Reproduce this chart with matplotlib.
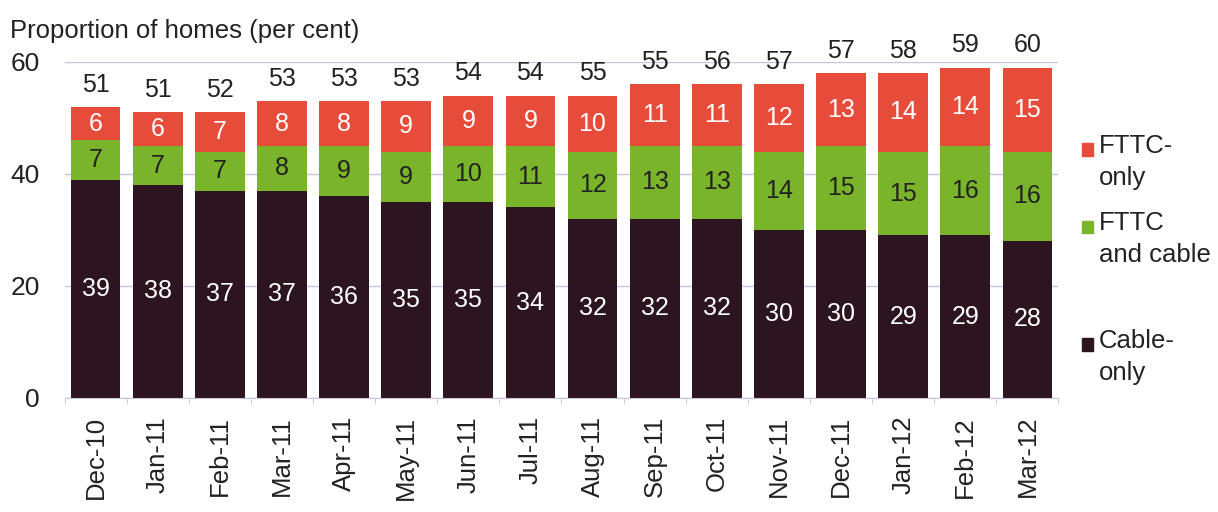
import matplotlib
matplotlib.use("Agg")
import matplotlib.pyplot as plt
import numpy as np

plt.rcParams['font.family'] = ['Liberation Sans', 'DejaVu Sans']

months = ["Dec-10", "Jan-11", "Feb-11", "Mar-11", "Apr-11", "May-11", "Jun-11", "Jul-11",
          "Aug-11", "Sep-11", "Oct-11", "Nov-11", "Dec-11", "Jan-12", "Feb-12", "Mar-12"]
cable_only = [39, 38, 37, 37, 36, 35, 35, 34, 32, 32, 32, 30, 30, 29, 29, 28]
fttc_and_cable = [7, 7, 7, 8, 9, 9, 10, 11, 12, 13, 13, 14, 15, 15, 16, 16]
fttc_only = [6, 6, 7, 8, 8, 9, 9, 9, 10, 11, 11, 12, 13, 14, 14, 15]
totals = [51, 51, 52, 53, 53, 53, 54, 54, 55, 55, 56, 57, 57, 58, 59, 60]

c_dark = "#2c1520"
c_green = "#79b42a"
c_red = "#e74c3a"
txt = "#222222"

fig = plt.figure(figsize=(12.18, 5.12), dpi=100)
ax = fig.add_axes([0.053, 0.223, 0.816, 0.656])

x = np.arange(len(months))
w = 0.8
ax.bar(x, cable_only, w, color=c_dark, zorder=2)
ax.bar(x, fttc_and_cable, w, bottom=cable_only, color=c_green, zorder=2)
base3 = np.array(cable_only) + np.array(fttc_and_cable)
ax.bar(x, fttc_only, w, bottom=base3, color=c_red, zorder=2)

fs = 18
for i in range(len(months)):
    ax.text(x[i], cable_only[i] / 2, str(cable_only[i]), ha="center", va="center",
            color="white", fontsize=fs, zorder=3)
    ax.text(x[i], cable_only[i] + fttc_and_cable[i] / 2, str(fttc_and_cable[i]),
            ha="center", va="center", color=txt, fontsize=fs, zorder=3)
    ax.text(x[i], base3[i] + fttc_only[i] / 2, str(fttc_only[i]),
            ha="center", va="center", color="white", fontsize=fs, zorder=3)
    top = base3[i] + fttc_only[i]
    ax.text(x[i], top + 1.8, str(totals[i]), ha="center", va="bottom",
            color=txt, fontsize=fs)

ax.set_xlim(-0.48, len(months) - 0.52)
ax.set_ylim(0, 60)
ax.set_yticks([0, 20, 40, 60])
ax.tick_params(axis="y", length=0, labelsize=19, pad=18, colors=txt)
ax.yaxis.grid(True, color="#c9c4dc", linewidth=1, zorder=0)
ax.set_axisbelow(True)

ax.set_xticks(x)
ax.set_xticklabels(months, rotation=90, fontsize=18.5, color=txt)
ax.tick_params(axis="x", length=0, pad=13)
ax.set_xticks(np.arange(-0.5, len(months), 1), minor=True)
ax.tick_params(axis="x", which="minor", length=4, color="#c9c4dc")

for s in ["top", "right", "left"]:
    ax.spines[s].set_visible(False)
ax.spines["bottom"].set_color("#c9c4dc")

fig.text(0.008, 0.94, "Proportion of homes (per cent)", fontsize=18.5, color=txt,
         ha="left", va="center")

# legend entries on the right
legend_items = [("FTTC-\nonly", c_red, 0.262), ("FTTC\nand cable", c_green, 0.413),
                ("Cable-\nonly", c_dark, 0.643)]
for label, col, ytop in legend_items:
    yf = 1 - ytop
    fig.patches.append(plt.Rectangle((0.888, yf - 0.042), 0.0095, 0.024, color=col,
                                     transform=fig.transFigure, figure=fig))
    fig.text(0.902, yf, label, fontsize=18.5, color=txt, ha="left", va="top",
             linespacing=1.42)

fig.savefig("out.png", dpi=100)
